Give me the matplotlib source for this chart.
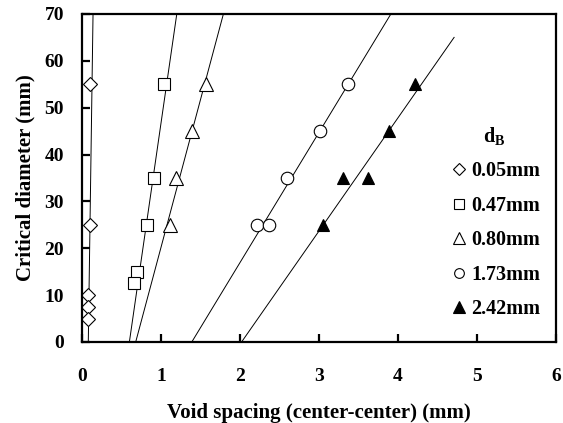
import matplotlib
matplotlib.use("Agg")
import matplotlib.pyplot as plt
from matplotlib.lines import Line2D

plt.rcParams['font.family'] = ['Liberation Serif', 'DejaVu Serif']
plt.rcParams['font.weight'] = 'bold'
plt.rcParams['mathtext.fontset'] = 'custom'
plt.rcParams['mathtext.rm'] = 'Liberation Serif:bold'
plt.rcParams['mathtext.bf'] = 'Liberation Serif:bold'

# measured points, one set per bubble size dB
labels = ['0.05mm', '0.47mm', '0.80mm', '1.73mm', '2.42mm']

x_005 = [0.10, 0.10, 0.08, 0.08, 0.08]
y_005 = [55, 25, 10, 7.5, 5]

x_047 = [1.04, 0.91, 0.82, 0.70, 0.66]
y_047 = [55, 35, 25, 15, 12.5]

x_080 = [1.57, 1.39, 1.19, 1.11]
y_080 = [55, 45, 35, 25]

x_173 = [3.37, 3.01, 2.59, 2.21, 2.37]
y_173 = [55, 45, 35, 25, 25]

x_242 = [4.22, 3.89, 3.31, 3.62, 3.05]
y_242 = [55, 45, 35, 35, 25]

# fitted trend lines: (x at start, y at start), (x at end, y at end)
fit_x = [[0.08, 0.14], [0.60, 1.20], [0.68, 1.79], [1.39, 3.91], [2.02, 4.71]]
fit_y = [[0, 70], [0, 70], [0, 70], [0, 70], [0, 65]]

fig = plt.figure(figsize=(5.63, 4.23), dpi=100)
ax = fig.add_axes([0.1456, 0.1915, 0.8420, 0.7755])

for fx, fy in zip(fit_x, fit_y):
    ax.plot(fx, fy, color='black', lw=0.7, zorder=1)

ms = 9
ax.plot(x_005, y_005, 'D', ms=7, mfc='white', mec='black', mew=0.8, ls='none', zorder=2)
ax.plot(x_047, y_047, 's', ms=ms, mfc='white', mec='black', mew=0.8, ls='none', zorder=2)
ax.plot(x_080, y_080, '^', ms=ms + 1, mfc='white', mec='black', mew=0.8, ls='none', zorder=2)
ax.plot(x_173, y_173, 'o', ms=ms, mfc='white', mec='black', mew=0.8, ls='none', zorder=2)
ax.plot(x_242, y_242, '^', ms=ms, mfc='black', mec='black', mew=0.8, ls='none', zorder=2)

ax.set_xlim(0, 6)
ax.set_ylim(0, 70)
ax.set_xticks(range(0, 7))
ax.set_yticks(range(0, 80, 10))

for s in ax.spines.values():
    s.set_linewidth(1.6)

ax.tick_params(axis='both', direction='in', length=6, width=1.6,
               labelsize=14, top=False, right=False)
ax.tick_params(axis='x', pad=19)
ax.tick_params(axis='y', pad=13)

ax.set_xlabel('Void spacing (center-center) (mm)', fontsize=15, fontweight='bold', labelpad=13)
ax.set_ylabel('Critical diameter (mm)', fontsize=15, fontweight='bold', labelpad=6)

handles = [
    Line2D([], [], marker='D', ms=6, mfc='white', mec='black', mew=0.8, ls='none'),
    Line2D([], [], marker='s', ms=7, mfc='white', mec='black', mew=0.8, ls='none'),
    Line2D([], [], marker='^', ms=8, mfc='white', mec='black', mew=0.8, ls='none'),
    Line2D([], [], marker='o', ms=7, mfc='white', mec='black', mew=0.8, ls='none'),
    Line2D([], [], marker='^', ms=8, mfc='black', mec='black', mew=0.8, ls='none'),
]
leg = ax.legend(handles, labels, title=r'$\mathbf{d_B}$', frameon=False,
                loc='lower right', bbox_to_anchor=(1.0, 0.02),
                prop={'size': 14.5, 'weight': 'bold'}, title_fontsize=14.5,
                labelspacing=0.72, handletextpad=0.1, handlelength=1.0,
                borderaxespad=0.4)

fig.savefig('out.png', dpi=100)
